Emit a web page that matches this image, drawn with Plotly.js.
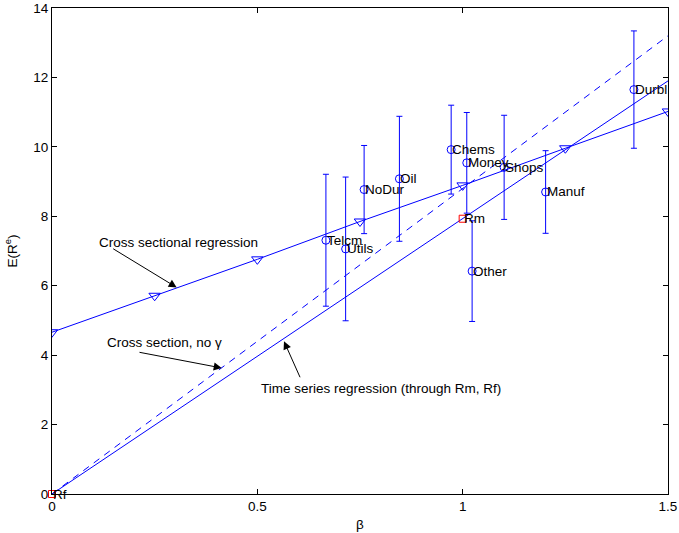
<!DOCTYPE html>
<html>
<head>
<meta charset="utf-8">
<script src="https://cdn.plot.ly/plotly-3.0.1.min.js"></script>
<style>html,body{margin:0;padding:0;background:#fff;}#chart{width:679px;height:533px;}</style>
</head>
<body>
<div id="chart"></div>
<script>
// Industry portfolios
const names = ['Telcm','Utils','NoDur','Oil','Chems','Money','Shops','Manuf','Durbl','Other'];
const betas = [0.667,0.715,0.760,0.846,0.972,1.010,1.101,1.202,1.417,1.023];
const means = [7.31,7.06,8.77,9.08,9.92,9.54,9.41,8.70,11.65,6.42];
const errs  = [1.90,2.07,1.27,1.80,1.28,1.45,1.50,1.19,1.69,1.45];

// Market and risk-free
const refNames = ['Rf','Rm'];
const refBetas = [0, 1];
const refMeans = [0, 7.93];

// Cross sectional regression (fitted)
const csX = [0, 0.25, 0.5, 0.75, 1.0, 1.25, 1.5];
const csY = [4.66, 5.71, 6.76, 7.85, 8.89, 9.96, 11.02];

// Time series line through Rf and Rm
const tsX = [0, 1.5];
const tsY = [0, 11.9];

// Cross section, no gamma
const ngX = [0, 1.5];
const ngY = [0, 13.2];

const FONT = 'Liberation Sans, Arial, Helvetica, sans-serif';
const FS = 13.5;
const BLUE = '#0000ff';

const traces = [
  {x: betas, y: means, type: 'scatter', mode: 'markers',
   marker: {symbol: 'circle-open', size: 8, color: BLUE, line: {width: 1}},
   error_y: {type: 'data', array: errs, visible: true, color: BLUE, thickness: 1, width: 3},
   hoverinfo: 'skip'},
  {x: ngX, y: ngY, type: 'scatter', mode: 'lines',
   line: {color: BLUE, width: 1, dash: '7px,6px'}, hoverinfo: 'skip'},
  {x: tsX, y: tsY, type: 'scatter', mode: 'lines',
   line: {color: BLUE, width: 1}, hoverinfo: 'skip'},
  {x: csX, y: csY, type: 'scatter', mode: 'lines+markers',
   line: {color: BLUE, width: 1},
   marker: {symbol: 'triangle-down-open', size: 10, color: BLUE, line: {width: 1}},
   hoverinfo: 'skip'},
  {x: refBetas, y: refMeans, type: 'scatter', mode: 'markers',
   marker: {symbol: 'square-open', size: 7, color: '#ff0000', line: {width: 1}},
   cliponaxis: false, hoverinfo: 'skip'}
];

const annotations = [];
names.forEach((n, i) => annotations.push({
  x: betas[i], y: means[i], text: n, showarrow: false,
  xanchor: 'left', yanchor: 'middle', xshift: -1, font: {family: FONT, size: FS, color: '#000'}
}));
refNames.forEach((n, i) => annotations.push({
  x: refBetas[i], y: refMeans[i], text: n, showarrow: false,
  xanchor: 'left', yanchor: 'middle', xshift: -1, font: {family: FONT, size: FS, color: '#000'}
}));

const notes = [
  {text: 'Cross sectional regression', x: 0.1096, y: 7.24, tip: [0.3036, 5.95], tail: [0.1454, 7.09]},
  {text: 'Cross section, no γ', x: 0.129, y: 4.35, tip: [0.4132, 3.63], tail: [0.2094, 4.09]},
  {text: 'Time series regression (through Rm, Rf)', x: 0.504, y: 3.04, tip: [0.5649, 4.40], tail: [0.6056, 3.32]}
];
notes.forEach(a => {
  annotations.push({x: a.x, y: a.y, text: a.text, showarrow: false, xanchor: 'left', yanchor: 'middle',
    font: {family: FONT, size: FS, color: '#000'}});
  annotations.push({x: a.tip[0], y: a.tip[1], ax: a.tail[0], ay: a.tail[1], axref: 'x', ayref: 'y',
    text: '', showarrow: true, arrowhead: 2, arrowsize: 1.6, arrowwidth: 1, arrowcolor: '#000'});
});

const axisCommon = {
  showgrid: false, zeroline: false, showline: true, linecolor: '#000', linewidth: 1,
  mirror: 'ticks', ticks: 'inside', ticklen: 5, tickcolor: '#000', tickwidth: 1,
  tickfont: {family: FONT, size: FS, color: '#000'}
};

const layout = {
  width: 679, height: 533,
  margin: {l: 52, r: 11, t: 8, b: 39},
  paper_bgcolor: '#fff', plot_bgcolor: '#fff',
  showlegend: false,
  xaxis: Object.assign({}, axisCommon, {
    range: [0, 1.5], tickvals: [0, 0.5, 1, 1.5], ticktext: ['0', '0.5', '1', '1.5'],
    title: {text: 'β', font: {family: FONT, size: FS, color: '#000'}, standoff: 6}
  }),
  yaxis: Object.assign({}, axisCommon, {
    range: [0, 14], tickvals: [0, 2, 4, 6, 8, 10, 12, 14],
    title: {text: 'E(R<sup>e</sup>)', font: {family: FONT, size: FS, color: '#000'}, standoff: 12}
  }),
  annotations: annotations
};

Plotly.newPlot('chart', traces, layout, {displayModeBar: false, staticPlot: true});
</script>
</body>
</html>
